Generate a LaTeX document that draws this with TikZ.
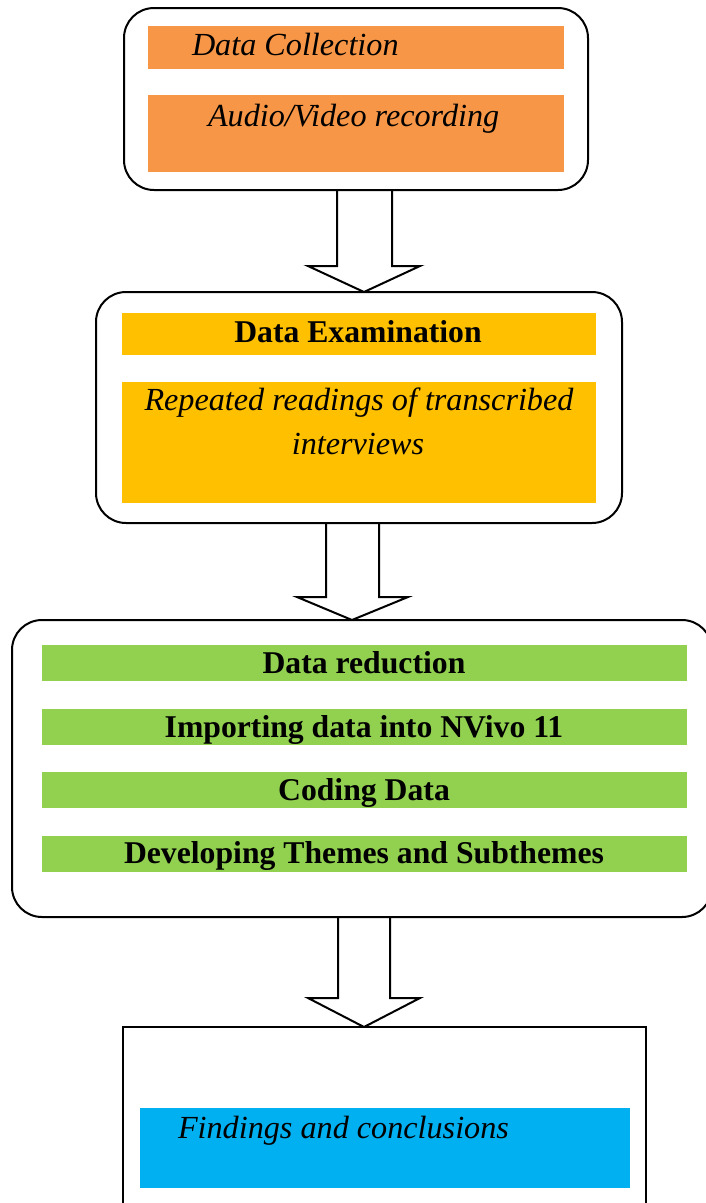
\documentclass[tikz,border=0pt]{standalone}
\usepackage{fontspec}
\setmainfont{Liberation Serif}
\begin{document}
\begin{tikzpicture}[x=1pt,y=-1pt,
  frame/.style={draw=black,line width=2pt,fill=white,rounded corners=30pt},
  plainframe/.style={draw=black,line width=2pt,fill=white},
  blockarrow/.style={draw=black,line width=2pt,fill=white,line join=miter},
  lbl/.style={inner sep=0pt,outer sep=0pt},
  ilbl/.style={lbl,font=\fontsize{32.2}{38}\selectfont\itshape},
  blbl/.style={lbl,font=\fontsize{31.7}{38}\selectfont\bfseries}]
\definecolor{barorange}{HTML}{F79646}
\definecolor{baryellow}{HTML}{FFC000}
\definecolor{bargreen}{HTML}{92D050}
\definecolor{barblue}{HTML}{00B0F0}
\useasboundingbox (0,0) rectangle (706,1203);
\clip (0,0) rectangle (706,1203);

% --- block arrows between the stages (drawn first so the frames sit on top)
\draw[blockarrow] (337,190) -- (337,266) -- (308,266) -- (364,292) -- (420,266) -- (392,266) -- (392,190);
\draw[blockarrow] (326,523) -- (326,597) -- (297,597) -- (352,620) -- (408,597) -- (379,597) -- (379,523);
\draw[blockarrow] (338,917) -- (338,998) -- (308,998) -- (364,1027) -- (420,998) -- (390,998) -- (390,917);

% --- stage 1: data collection
\draw[frame] (124,8) rectangle (588,190);
\fill[barorange] (148,26) rectangle (564,69);
\fill[barorange] (148,95) rectangle (564,172);
\node[ilbl,anchor=base west] (collect) at (192,55) {Data Collection};
\node[ilbl,anchor=base west] (record) at (208,126) {Audio/Video recording};

% --- stage 2: data examination
\draw[frame] (96,292) rectangle (622,523);
\fill[baryellow] (122,313) rectangle (596,355);
\fill[baryellow] (122,382) rectangle (596,503);
\node[blbl,anchor=base] (exam) at (358,342) {Data Examination};
\node[ilbl,anchor=base] (reread1) at (359,410) {Repeated readings of transcribed};
\node[ilbl,anchor=base] (reread2) at (358,454) {interviews};

% --- stage 3: data reduction
\draw[frame] (12,620) rectangle (712,917);
\fill[bargreen] (42,645) rectangle (687,681);
\fill[bargreen] (42,709) rectangle (687,745);
\fill[bargreen] (42,772) rectangle (687,808);
\fill[bargreen] (42,836) rectangle (687,872);
\node[blbl,anchor=base] (reduce) at (364,673) {Data reduction};
\node[blbl,anchor=base] (import) at (364,737) {Importing data into NVivo 11};
\node[blbl,anchor=base] (coding) at (364,800) {Coding Data};
\node[blbl,anchor=base] (themes) at (364,863) {Developing Themes and Subthemes};

% --- stage 4: findings
\draw[plainframe] (123,1027) rectangle (646,1215);
\fill[barblue] (140,1108) rectangle (630,1188);
\node[ilbl,anchor=base west] (findings) at (178,1138) {Findings and conclusions};
\end{tikzpicture}
\end{document}
